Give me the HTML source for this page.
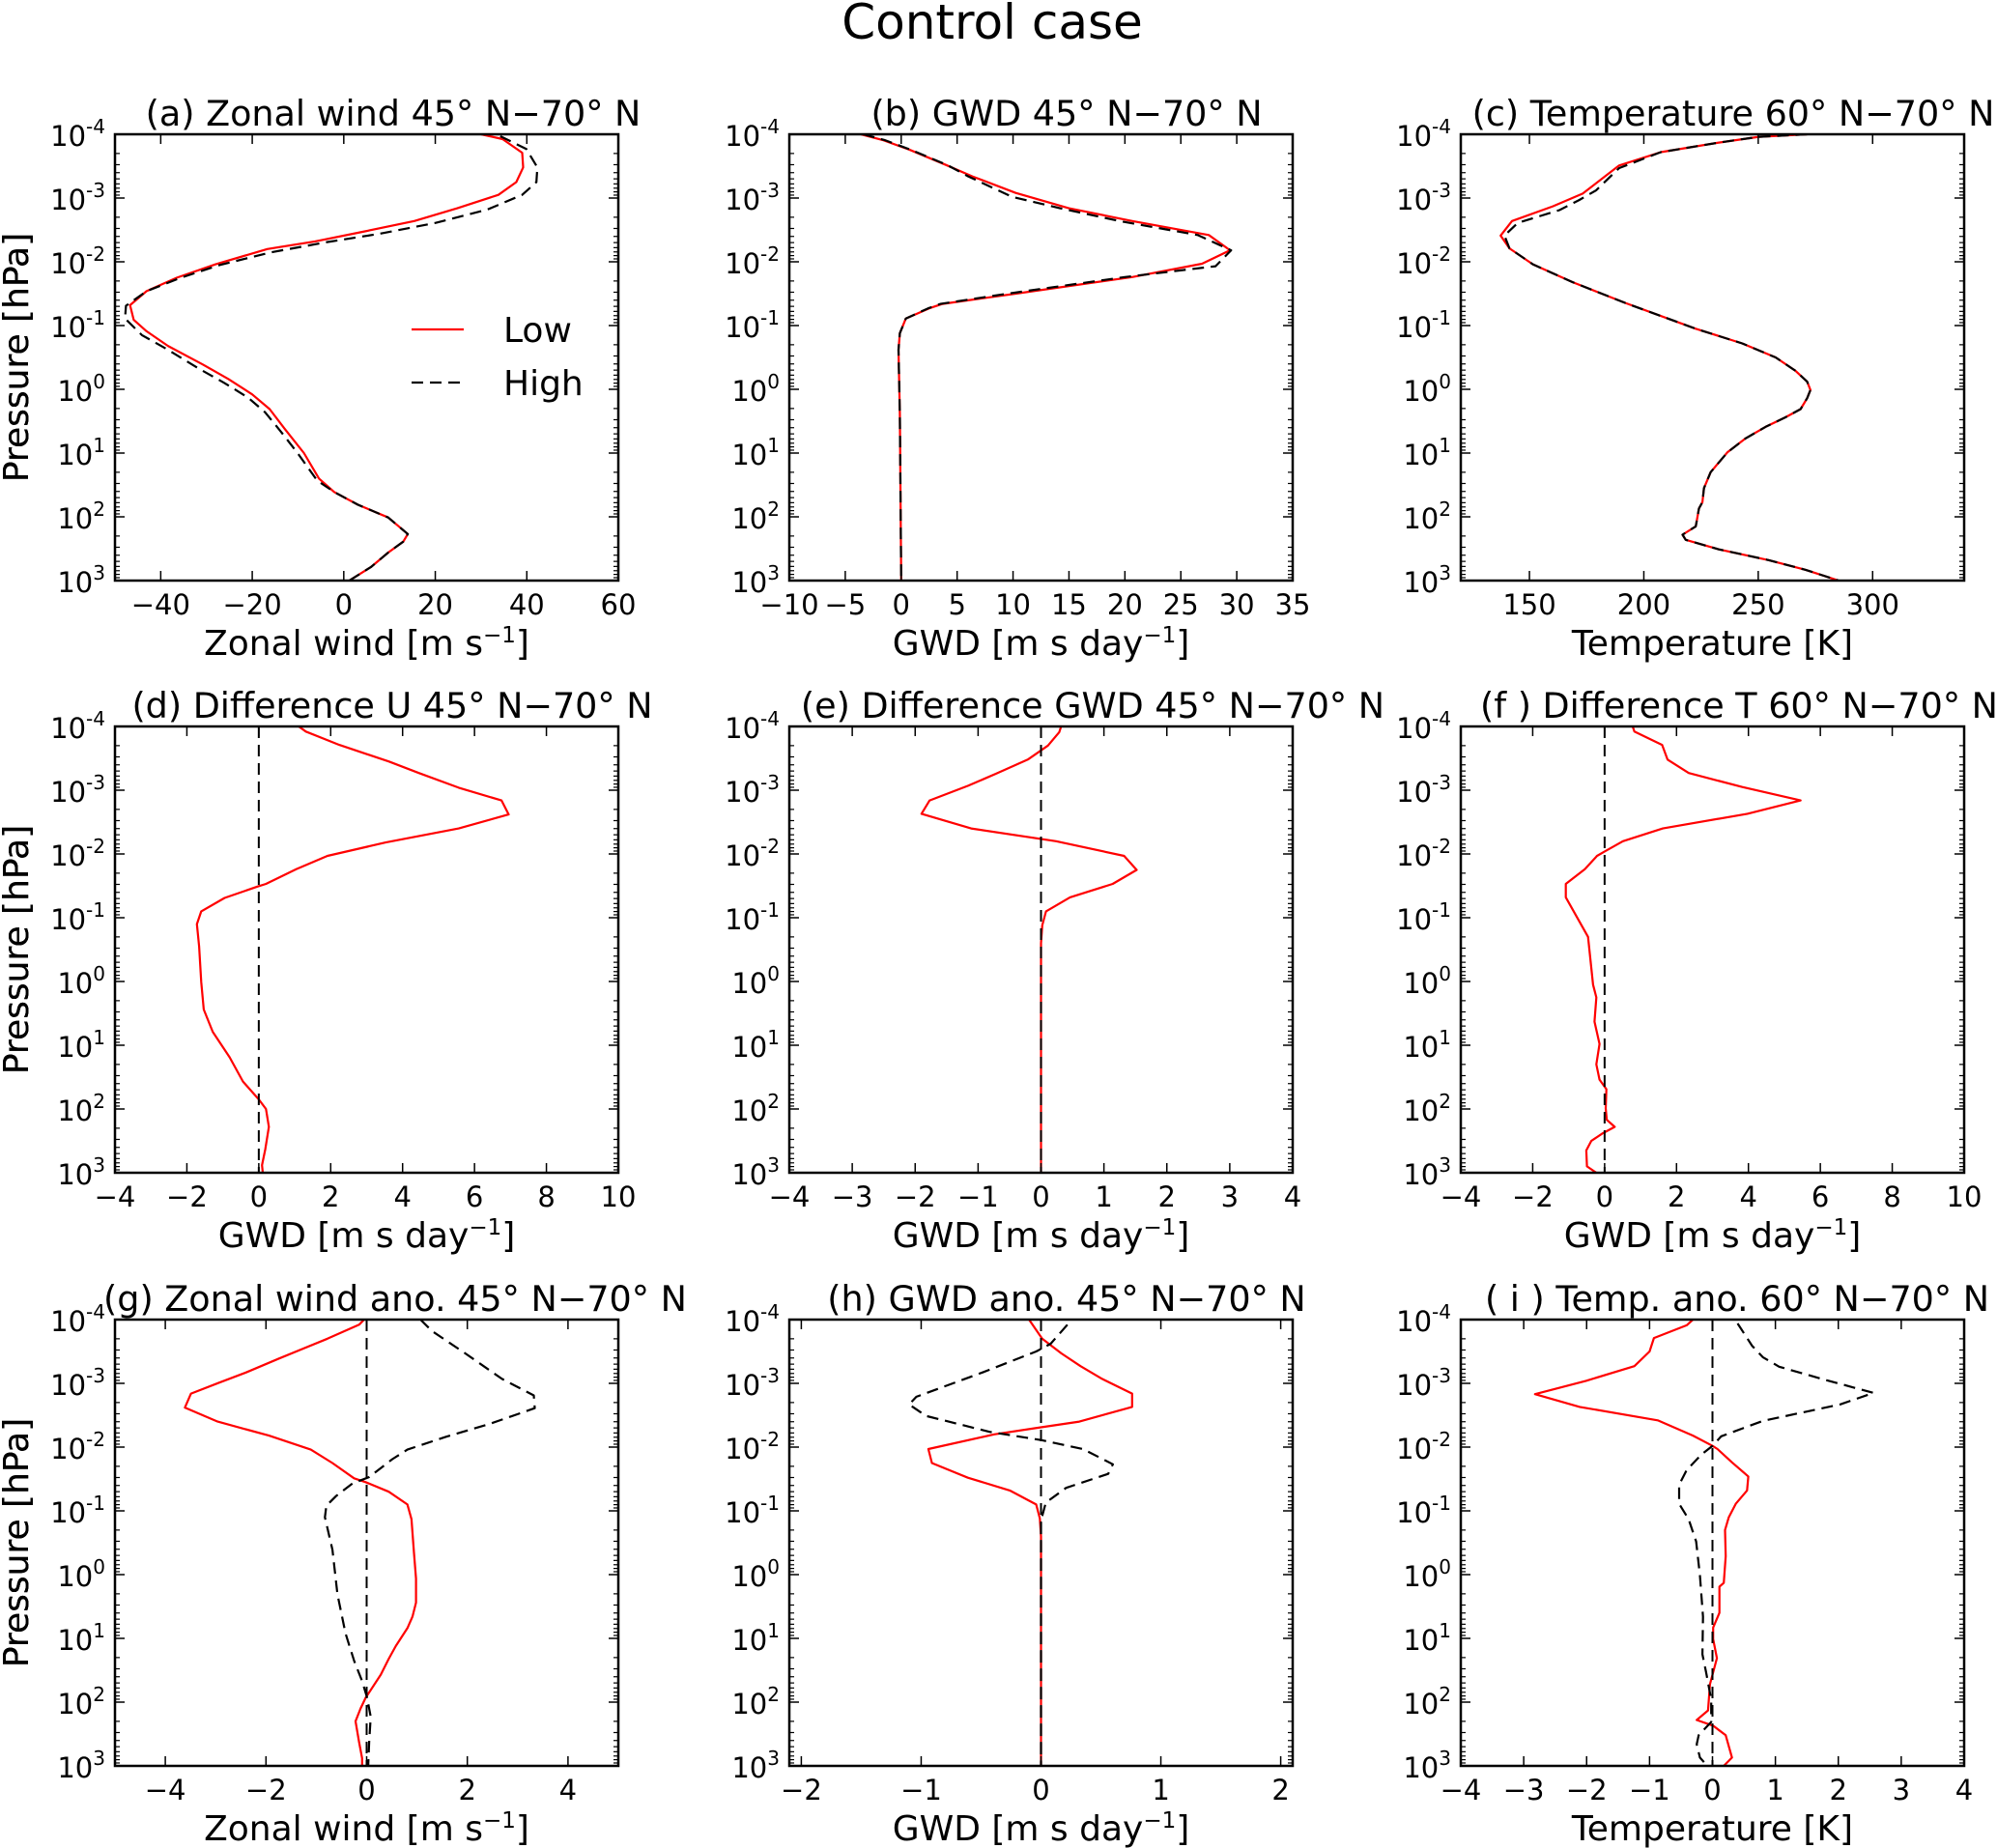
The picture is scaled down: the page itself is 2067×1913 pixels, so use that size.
<!DOCTYPE html>
<html><head><meta charset="utf-8"><title>Control case</title>
<style>
html,body{margin:0;padding:0;background:#fff;}
svg{display:block;font-family:"DejaVu Sans","Liberation Sans",sans-serif;}
</style></head>
<body>
<svg id="fig" width="2067" height="1913" viewBox="0 0 2067 1913" xmlns="http://www.w3.org/2000/svg">
<text x="1027" y="40" font-size="50" text-anchor="middle">Control case</text>
</svg>
<script>
// ---------- data (log10 pressure levels and values) ----------
const aLowP = [-4,-3.925,-3.71,-3.48,-3.25,-3.05,-2.84,-2.64,-2.47,-2.32,-2.20,-1.96,-1.75,-1.54,-1.32,-1.09,-0.91,-0.68,-0.39,-0.16,0.08,0.31,0.62,1.0,1.40,1.61,1.81,2.01,2.27,2.39,2.56,2.79,3.0];
const aLowV = [30.0,34.7,39.0,39.2,37.7,33.8,24.8,15.4,4.1,-6.3,-16.7,-28.0,-36.5,-43.1,-46.7,-45.9,-43.1,-38.4,-30.8,-25.2,-20.0,-16.2,-12.9,-8.7,-5.4,-2.1,3.1,9.7,14.0,13.0,9.7,5.9,1.2];
const aHighP = [-3.97,-3.77,-3.48,-3.25,-3.05,-2.82,-2.61,-2.44,-2.31,-2.15,-1.95,-1.75,-1.54,-1.31,-1.11,-0.85,-0.62,-0.33,-0.10,0.13,0.36,0.65,1.0,1.43,1.61,1.81,2.01,2.27,2.39,2.56,2.79,3.0];
const aHighV = [34.2,39.9,42.3,42.1,39.0,31.4,20.1,7.8,-3.5,-15.8,-27.1,-35.6,-43.1,-47.6,-47.8,-44.1,-38.4,-31.8,-26.1,-20.9,-17.2,-13.9,-10.1,-5.8,-2.1,3.1,9.7,14.0,13.0,9.7,5.9,1.2];

const bLowP = [-4,-3.91,-3.76,-3.52,-3.34,-3.08,-2.84,-2.64,-2.42,-2.18,-1.97,-1.76,-1.50,-1.34,-1.27,-1.11,-0.88,-0.62,0.39,3.0];
const bLowV = [-3.6,-1.67,0.71,3.99,6.37,10.24,15.0,20.65,27.5,29.4,26.9,20.65,10.24,3.69,2.5,0.42,-0.12,-0.24,-0.12,0];
const bHighP = [-4,-3.91,-3.76,-3.52,-3.34,-3.02,-2.84,-2.64,-2.42,-2.18,-1.93,-1.76,-1.50,-1.34,-1.27,-1.11,-0.88,-0.62,0.39,3.0];
const bHighV = [-3.4,-1.5,0.8,4.1,6.0,9.9,14.2,19.5,26.5,29.5,28.1,20.0,9.5,3.5,2.4,0.42,-0.12,-0.24,-0.12,0];

const cLowP = [-4,-3.96,-3.87,-3.72,-3.51,-3.07,-2.87,-2.64,-2.41,-2.21,-1.96,-1.68,-1.35,-0.95,-0.72,-0.50,-0.29,-0.12,0.01,0.14,0.31,0.44,0.59,0.77,0.99,1.30,1.55,1.77,1.87,2.15,2.28,2.36,2.51,2.68,2.83,3.0];
const cLowV = [271.4,250.3,232.8,207.4,189.2,173.3,160.2,142.4,137.4,141.3,151.5,168.9,192.2,222.7,243.0,257.6,266.3,271.4,272.8,271.4,268.5,261.9,253.2,244.5,236.5,229.2,226.3,225.6,224.1,222.7,216.9,218.3,232.8,254.7,270.6,285.2];
const cHighP = [-4,-3.96,-3.87,-3.72,-3.47,-3.12,-2.97,-2.81,-2.61,-2.41,-2.21,-1.96,-1.68,-1.35,-0.95,-0.72,-0.50,-0.29,-0.12,0.01,0.14,0.31,0.44,0.59,0.77,0.99,1.30,1.55,1.77,1.87,2.15,2.28,2.36,2.51,2.68,2.83,3.0];
const cHighV = [271.4,250.3,232.8,207.4,189.2,179.1,171.8,163.1,144.9,139.1,141.3,151.5,168.9,192.2,222.7,243.0,257.6,266.3,271.4,272.8,271.4,268.5,261.9,253.2,244.5,236.5,229.2,226.3,225.6,224.1,222.7,216.9,218.3,232.8,254.7,270.6,285.2];

const dLowP = [-4,-3.92,-3.71,-3.45,-3.27,-3.04,-2.84,-2.62,-2.40,-2.18,-1.97,-1.76,-1.53,-1.49,-1.31,-1.10,-0.90,-0.55,0.01,0.44,0.79,1.19,1.57,1.85,2.0,2.28,2.63,2.88,3.0];
const dLowV = [1.11,1.31,2.24,3.62,4.45,5.56,6.75,6.95,5.56,3.53,1.91,1.04,0.20,-0.03,-0.95,-1.60,-1.72,-1.66,-1.60,-1.53,-1.28,-0.81,-0.44,0,0.20,0.28,0.18,0.09,0.11];

const eLowP = [-4,-3.91,-3.70,-3.48,-3.26,-3.07,-2.84,-2.63,-2.40,-2.20,-1.97,-1.75,-1.53,-1.32,-1.10,-0.88,-0.60,3.0];
const eLowV = [0.32,0.29,0.11,-0.21,-0.71,-1.16,-1.77,-1.90,-1.11,0.24,1.32,1.52,1.14,0.46,0.08,0.02,0,0];

const fLowP = [-4,-3.92,-3.71,-3.48,-3.27,-3.05,-2.84,-2.63,-2.40,-2.20,-2.04,-1.97,-1.76,-1.53,-1.32,-0.70,0.05,0.25,0.63,0.98,1.30,1.54,1.69,1.99,2.17,2.28,2.38,2.50,2.65,2.90,3.0];
const fLowV = [0.78,0.83,1.60,1.75,2.34,3.83,5.45,3.97,1.62,0.51,0,-0.21,-0.55,-1.08,-1.08,-0.46,-0.32,-0.23,-0.28,-0.14,-0.23,-0.14,0.05,0.03,0.06,0.28,-0.05,-0.37,-0.51,-0.49,-0.23];

const gLowP = [-4,-3.92,-3.70,-3.39,-3.17,-3.01,-2.84,-2.62,-2.40,-2.18,-1.96,-1.75,-1.51,-1.45,-1.30,-1.10,-0.87,-0.34,0.06,0.44,0.66,0.84,1.12,1.32,1.57,1.93,2.10,2.30,2.63,2.88,3.0];
const gLowV = [-0.05,-0.15,-0.78,-1.74,-2.40,-2.93,-3.49,-3.61,-2.96,-1.94,-1.11,-0.68,-0.25,-0.02,0.44,0.81,0.89,0.94,0.98,0.98,0.91,0.81,0.58,0.44,0.28,-0.02,-0.12,-0.22,-0.15,-0.09,-0.09];
const gHighP = [-4,-3.82,-3.47,-3.07,-2.81,-2.61,-2.36,-2.16,-1.96,-1.81,-1.53,-1.43,-1.23,-1.08,-0.90,-0.39,0.31,0.92,1.35,1.67,1.93,2.23,2.63,3.0];
const gHighV = [1.07,1.30,1.96,2.69,3.32,3.34,2.43,1.57,0.81,0.51,0.05,-0.28,-0.61,-0.80,-0.83,-0.68,-0.58,-0.42,-0.25,-0.09,0.01,0.08,0.05,0.03];

const hLowP = [-4,-3.70,-3.47,-3.27,-3.07,-2.84,-2.63,-2.40,-2.31,-2.20,-1.97,-1.75,-1.52,-1.32,-1.10,-0.88,-0.60,3.0];
const hLowV = [-0.10,0.01,0.17,0.33,0.51,0.76,0.76,0.32,0,-0.39,-0.94,-0.91,-0.61,-0.26,-0.04,-0.01,0,0];
const hHighP = [-3.92,-3.62,-3.50,-3.17,-2.79,-2.67,-2.49,-2.24,-2.11,-1.97,-1.73,-1.58,-1.36,-1.13,-0.85,3.0];
const hHighV = [0.22,0.08,-0.04,-0.49,-1.04,-1.10,-0.96,-0.43,0,0.35,0.60,0.56,0.21,0.04,0,0];

const iLowP = [-4,-3.91,-3.71,-3.50,-3.27,-3.04,-2.83,-2.63,-2.42,-2.18,-2.02,-1.97,-1.76,-1.54,-1.32,-1.11,-0.90,-0.70,-0.29,0.13,0.19,0.60,0.83,1.01,1.31,1.72,2.13,2.28,2.37,2.52,2.87,3.0];
const iLowV = [-0.31,-0.41,-0.93,-1.00,-1.24,-2.01,-2.82,-2.11,-0.87,-0.31,0,0.08,0.31,0.57,0.55,0.37,0.26,0.20,0.21,0.18,0.11,0.11,0.01,0.01,0.07,-0.04,-0.07,-0.25,0.01,0.21,0.31,0.18];
const iHighP = [-3.94,-3.59,-3.41,-3.26,-3.06,-2.85,-2.67,-2.41,-2.17,-2.02,-1.88,-1.64,-1.41,-1.11,-0.87,-0.52,0.01,0.66,1.25,1.54,1.96,2.31,2.52,2.66,2.87,3.0];
const iHighV = [0.40,0.63,0.80,1.06,1.77,2.56,2.03,0.80,0.14,0,-0.18,-0.41,-0.53,-0.53,-0.38,-0.26,-0.20,-0.15,-0.16,-0.10,-0.02,-0.02,-0.22,-0.25,-0.20,-0.08];

const aTicks = [-40,-20,0,20,40,60];
const bTicks = [-10,-5,0,5,10,15,20,25,30,35];
const cTicks = [150,200,250,300];
const dTicks = [-4,-2,0,2,4,6,8,10];
const eTicks = [-4,-3,-2,-1,0,1,2,3,4];
const fTicks = [-4,-2,0,2,4,6,8,10];
const gTicks = [-4,-2,0,2,4];
const hTicks = [-2,-1,0,1,2];
const iTicks = [-4,-3,-2,-1,0,1,2,3,4];
const yDecades = [-4,-3,-2,-1,0,1,2,3];

// ---------- drawing ----------
const NS = 'http://www.w3.org/2000/svg';
const svg = document.getElementById('fig');
function mk(tag, attrs, parent) {
  const e = document.createElementNS(NS, tag);
  for (const k in attrs) e.setAttribute(k, attrs[k]);
  (parent || svg).appendChild(e);
  return e;
}
const COLS = [119, 817, 1512];
const ROWS = [139, 752, 1366];
const W = 521, H = 462;

function fmt(v) { return v < 0 ? '\u2212' + Math.abs(v) : String(v); }

function panel(id, col, row, xmin, xmax, ticks, title, titleX, xlabel, xsup, series, zeroLine) {
  const L = COLS[col], T = ROWS[row], R = L + W, B = T + H;
  const g = mk('g', {});
  
  
  const xs = v => L + (v - xmin) / (xmax - xmin) * W;
  const ys = lp => T + (lp + 4) / 7 * H;

  const t = mk('text', {x: titleX, y: T - 9, 'font-size': 36.5, 'text-anchor': 'middle'}, g);
  t.textContent = title;
  
  

  const cp = mk('clipPath', {id: 'clip' + id}, g);
  mk('rect', {x: L, y: T, width: W, height: H}, cp);
  const plot = mk('g', {'clip-path': 'url(#clip' + id + ')'}, g);
  
  

  series.forEach(s => {
    const pts = s.p.map((lp, i) => xs(s.v[i]).toFixed(1) + ',' + ys(lp).toFixed(1)).join(' ');
    const pl = mk('polyline', {points: pts, fill: 'none', stroke: s.color, 'stroke-width': 2.2,
      'stroke-linejoin': 'round'}, plot);
    if (s.dash) pl.setAttribute('stroke-dasharray', '12,7');
    
    
  });
  if (zeroLine) {
    const z = mk('line', {x1: xs(0), x2: xs(0), y1: T, y2: B, stroke: '#000', 'stroke-width': 2, 'stroke-dasharray': '12,7'}, plot);
    
    
  }

  const fr = mk('rect', {x: L, y: T, width: W, height: H, fill: 'none', stroke: '#000', 'stroke-width': 2.5}, g);
  
  

  ticks.forEach(v => {
    const x = xs(v);
    mk('line', {x1: x, x2: x, y1: B, y2: B - 10, stroke: '#000', 'stroke-width': 1.5}, g);
    mk('line', {x1: x, x2: x, y1: T, y2: T + 10, stroke: '#000', 'stroke-width': 1.5}, g);
    const tl = mk('text', {x: x, y: B + 35, 'font-size': 29, 'text-anchor': 'middle'}, g);
    tl.textContent = fmt(v);
    
    
  });
  yDecades.forEach(d => {
    const y = ys(d);
    mk('line', {x1: L, x2: L + 10, y1: y, y2: y, stroke: '#000', 'stroke-width': 1.5}, g);
    mk('line', {x1: R, x2: R - 10, y1: y, y2: y, stroke: '#000', 'stroke-width': 1.5}, g);
    if (d < 3) for (let m = 2; m <= 9; m++) {
      const ym = ys(d + Math.log10(m));
      mk('line', {x1: L, x2: L + 5, y1: ym, y2: ym, stroke: '#000', 'stroke-width': 1.2}, g);
      mk('line', {x1: R, x2: R - 5, y1: ym, y2: ym, stroke: '#000', 'stroke-width': 1.2}, g);
    }
    const yl = mk('text', {x: L - 10, y: y + 12, 'font-size': 29, 'text-anchor': 'end'}, g);
    
    
    const b = mk('tspan', {}, yl); b.textContent = '10';
    const sp = mk('tspan', {dy: -13, 'font-size': 20}, yl); sp.textContent = String(d);
  });
  const xl = mk('text', {x: (L + R) / 2, y: B + 77, 'font-size': 36, 'text-anchor': 'middle'}, g);
  
  
  const x1 = mk('tspan', {}, xl); x1.textContent = xlabel;
  if (xsup) {
    const x2 = mk('tspan', {dy: -13, 'font-size': 23}, xl); x2.textContent = '\u22121';
    const x3 = mk('tspan', {dy: 13}, xl); x3.textContent = ']';
  }
  const cy = (T + B) / 2;
  const ylab = mk('text', {x: 0, y: 0, 'font-size': 36, 'text-anchor': 'middle',
    transform: 'translate(29,' + cy + ') rotate(-90)'}, g);
  ylab.textContent = 'Pressure [hPa]';
  
  
  return {xs, ys, g};
}

const RED = '#ff0000';
panel('a', 0, 0, -50, 60, aTicks, '(a) Zonal wind 45\u00b0 N\u221270\u00b0 N', 407, 'Zonal wind [m s', true,
  [{p: aLowP, v: aLowV, color: RED, name: 'low-line-a'}, {p: aHighP, v: aHighV, color: '#000', dash: true, name: 'high-line-a'}], false);
panel('b', 1, 0, -10, 35, bTicks, '(b) GWD 45\u00b0 N\u221270\u00b0 N', 1104, 'GWD [m s day', true,
  [{p: bLowP, v: bLowV, color: RED, name: 'low-line-b'}, {p: bHighP, v: bHighV, color: '#000', dash: true, name: 'high-line-b'}], false);
panel('c', 2, 0, 120, 340, cTicks, '(c) Temperature 60\u00b0 N\u221270\u00b0 N', 1794, 'Temperature [K]', false,
  [{p: cLowP, v: cLowV, color: RED, name: 'low-line-c'}, {p: cHighP, v: cHighV, color: '#000', dash: true, name: 'high-line-c'}], false);
panel('d', 0, 1, -4, 10, dTicks, '(d) Difference U 45\u00b0 N\u221270\u00b0 N', 406, 'GWD [m s day', true,
  [{p: dLowP, v: dLowV, color: RED, name: 'difference-line-d'}], true);
panel('e', 1, 1, -4, 4, eTicks, '(e) Difference GWD 45\u00b0 N\u221270\u00b0 N', 1131, 'GWD [m s day', true,
  [{p: eLowP, v: eLowV, color: RED, name: 'difference-line-e'}], true);
panel('f', 2, 1, -4, 10, fTicks, '(f ) Difference T 60\u00b0 N\u221270\u00b0 N', 1800, 'GWD [m s day', true,
  [{p: fLowP, v: fLowV, color: RED, name: 'difference-line-f'}], true);
panel('g', 0, 2, -5, 5, gTicks, '(g) Zonal wind ano. 45\u00b0 N\u221270\u00b0 N', 409, 'Zonal wind [m s', true,
  [{p: gLowP, v: gLowV, color: RED, name: 'low-anomaly-line-g'}, {p: gHighP, v: gHighV, color: '#000', dash: true, name: 'high-anomaly-line-g'}], true);
panel('h', 1, 2, -2.1, 2.1, hTicks, '(h) GWD ano. 45\u00b0 N\u221270\u00b0 N', 1104, 'GWD [m s day', true,
  [{p: hLowP, v: hLowV, color: RED, name: 'low-anomaly-line-h'}, {p: hHighP, v: hHighV, color: '#000', dash: true, name: 'high-anomaly-line-h'}], true);
panel('i', 2, 2, -4, 4, iTicks, '( i ) Temp. ano. 60\u00b0 N\u221270\u00b0 N', 1798, 'Temperature [K]', false,
  [{p: iLowP, v: iLowV, color: RED, name: 'low-anomaly-line-i'}, {p: iHighP, v: iHighV, color: '#000', dash: true, name: 'high-anomaly-line-i'}], true);

const lg = mk('g', {});


const l1 = mk('line', {x1: 426, x2: 480, y1: 341, y2: 341, stroke: RED, 'stroke-width': 2.2}, lg);


const t1 = mk('text', {x: 521, y: 354, 'font-size': 36}, lg);
t1.textContent = 'Low';


const l2 = mk('line', {x1: 426, x2: 480, y1: 396, y2: 396, stroke: '#000', 'stroke-width': 2.2, 'stroke-dasharray': '12,7'}, lg);


const t2 = mk('text', {x: 521, y: 409, 'font-size': 36}, lg);
t2.textContent = 'High';


</script>
</body></html>
